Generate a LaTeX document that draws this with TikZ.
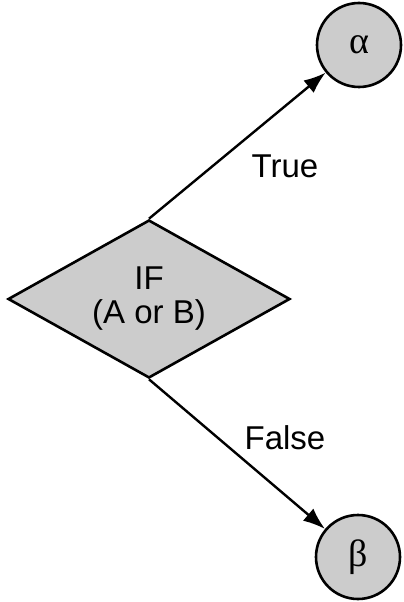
\documentclass[tikz,border=0pt]{standalone}
\usepackage{fontspec}
\setmainfont{Liberation Sans}
\newfontfamily\grkfont{Liberation Serif}
\usetikzlibrary{shapes.geometric,arrows.meta}
\begin{document}
\begin{tikzpicture}[x=1bp,y=1bp,
  decision/.style={diamond,draw=black,line width=2.6bp,fill=black!20,inner sep=0pt,
    minimum width=282bp,minimum height=158bp,aspect=1.78,align=center,
    font=\fontsize{33bp}{36bp}\selectfont},
  term/.style={circle,draw=black,line width=2.6bp,fill=black!20,minimum size=84bp,inner sep=0pt,
    font=\grkfont\fontsize{38bp}{40bp}\selectfont},
  flow/.style={line width=2.4bp,-{Latex[length=22bp,width=16bp]}},
  lbl/.style={font=\fontsize{33bp}{36bp}\selectfont}]
\useasboundingbox (0,0) rectangle (403,-602);
\node[decision] (d) at (149,-299) {IF\\[-2bp](A or B)};
\node[term] (a) at (359,-45) {α};
\node[term] (b) at (358,-557) {β};
\draw[flow] (d.north) -- (a);
\draw[flow] (d.south) -- (b);
\node[lbl] (t) at (285,-166) {True};
\node[lbl] (f) at (285,-438) {False};
\end{tikzpicture}
\end{document}
